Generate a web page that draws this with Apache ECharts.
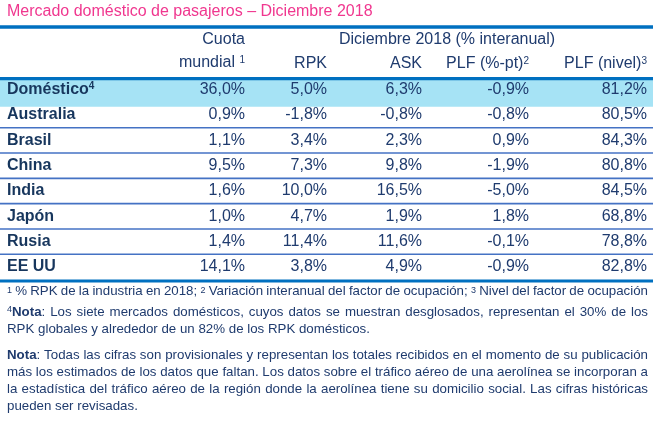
<!DOCTYPE html>
<html>
<head>
<meta charset="utf-8">
<script src="https://cdn.jsdelivr.net/npm/echarts@6/dist/echarts.min.js"></script>
<style>
  html, body { margin: 0; padding: 0; background: #fff; }
  #main { width: 664px; height: 425px; }
</style>
</head>
<body>
<div id="main"></div>
<script>
var rowNames = ['Doméstico', 'Australia', 'Brasil', 'China', 'India', 'Japón', 'Rusia', 'EE UU'];
var cuota    = [36.0, 0.9, 1.1, 9.5, 1.6, 1.0, 1.4, 14.1];
var rpk      = [5.0, -1.8, 3.4, 7.3, 10.0, 4.7, 11.4, 3.8];
var ask      = [6.3, -0.8, 2.3, 9.8, 16.5, 1.9, 11.6, 4.9];
var plfPt    = [-0.9, -0.8, 0.9, -1.9, -5.0, 1.8, -0.1, -0.9];
var plfNivel = [81.2, 80.5, 84.3, 80.8, 84.5, 68.8, 78.8, 82.8];

var titleText = 'Mercado doméstico de pasajeros – Diciembre 2018';
var notes = [
    { text: '{s|1} % RPK de la industria en 2018; {s|2} Variación interanual del factor de ocupación; {s|3} Nivel del factor de ocupación', justify: true },
    { text: '{s|4}{b|Nota}: Los siete mercados domésticos, cuyos datos se muestran desglosados, representan el 30% de los', justify: true },
    { text: 'RPK globales y alrededor de un 82% de los RPK domésticos.', justify: false },
    { text: '{b|Nota}: Todas las cifras son provisionales y representan los totales recibidos en el momento de su publicación', justify: true },
    { text: 'más los estimados de los datos que faltan. Los datos sobre el tráfico aéreo de una aerolínea se incorporan a', justify: true },
    { text: 'la estadística del tráfico aéreo de la región donde la aerolínea tiene su domicilio social. Las cifras históricas', justify: true },
    { text: 'pueden ser revisadas.', justify: false }
];
var noteY = [291, 312, 329, 355, 372, 389, 406];

window.onload = function () {
    var FONT = '"Liberation Sans", Arial, sans-serif';
    var BLUE = '#0070c0';
    var TXT = '#1f3b6e';
    var colX = [7, 245, 327, 422, 529, 647];
    var XMAX = 653;

    function pct(v) {
        return v.toFixed(1).replace('.', ',') + '%';
    }
    var cols = [cuota, rpk, ask, plfPt, plfNivel];

    // medir palabras para justificar las notas
    var ctx = document.createElement('canvas').getContext('2d');
    var noteSize = 13.3;
    var supSize = 9;
    var noteRich = {
        b: { fontWeight: 'bold', fontSize: noteSize, fontFamily: FONT, fill: TXT },
        s: { fontSize: supSize, fontFamily: FONT, fill: TXT, verticalAlign: 'top' }
    };
    function measure(tok) {
        var re = /\{(\w+)\|([^}]*)\}|([^{]+)/g, m, w = 0;
        while ((m = re.exec(tok))) {
            if (m[1] === 'b') ctx.font = 'bold ' + noteSize + 'px ' + FONT;
            else if (m[1] === 's') ctx.font = supSize + 'px ' + FONT;
            else ctx.font = noteSize + 'px ' + FONT;
            w += ctx.measureText(m[1] ? m[2] : m[3]).width;
        }
        return w;
    }

    var graphics = [
        { type: 'rect', shape: { x: 0, y: 25.2, width: XMAX, height: 3.5 }, style: { fill: BLUE } },
        { type: 'text', style: { text: 'Cuota', x: 245, y: 40, align: 'right', verticalAlign: 'middle', fontSize: 16, fontFamily: FONT, fill: TXT } },
        { type: 'text', style: { text: 'mundial {s|1}', x: 245, y: 63, align: 'right', verticalAlign: 'middle', fontSize: 16, fontFamily: FONT, fill: TXT,
            rich: { s: { fontSize: 10, fontFamily: FONT, fill: TXT, verticalAlign: 'top' } } } },
        { type: 'text', style: { text: 'Diciembre 2018 (% interanual)', x: 339, y: 40, align: 'left', verticalAlign: 'middle', fontSize: 16, fontFamily: FONT, fill: TXT } }
    ];
    var heads = ['RPK', 'ASK', 'PLF (%-pt){s|2}', 'PLF (nivel){s|3}'];
    heads.forEach(function (h, k) {
        graphics.push({ type: 'text', style: { text: h, x: colX[k + 2], y: 64, align: 'right', verticalAlign: 'middle', fontSize: 16, fontFamily: FONT, fill: TXT,
            rich: { s: { fontSize: 10, fontFamily: FONT, fill: TXT, verticalAlign: 'top' } } } });
    });

    notes.forEach(function (line, li) {
        var words = line.text.split(' ');
        var widths = words.map(measure);
        var total = widths.reduce(function (a, b) { return a + b; }, 0);
        ctx.font = noteSize + 'px ' + FONT;
        var gap = line.justify ? (641 - total) / (words.length - 1) : ctx.measureText(' ').width;
        gap = Math.max(gap, 1.5);
        var x = 7;
        words.forEach(function (w, wi) {
            graphics.push({ type: 'text', style: { text: w, x: x, y: noteY[li], align: 'left', verticalAlign: 'middle',
                fontSize: noteSize, fontFamily: FONT, fill: TXT, rich: noteRich } });
            x += widths[wi] + gap;
        });
    });

    var myChart = echarts.init(document.getElementById('main'));
    var option = {
        animation: false,
        title: {
            text: titleText,
            left: 7,
            top: 4,
            padding: 0,
            textStyle: { color: '#f0378f', fontSize: 16, fontWeight: 'normal', fontFamily: FONT }
        },
        grid: { left: 0, right: 664 - XMAX, top: 77, height: 202.5 },
        xAxis: { type: 'value', min: 0, max: XMAX, show: false },
        yAxis: { type: 'category', data: rowNames, inverse: true, show: false },
        graphic: graphics,
        series: [{
            type: 'custom',
            clip: false,
            encode: { x: 0, y: 1 },
            data: rowNames.map(function (n, i) { return [0, i]; }),
            renderItem: function (params, api) {
                var i = params.dataIndex;
                var p = api.coord([0, i]);
                var x0 = p[0], yc = p[1];
                var x1 = api.coord([XMAX, i])[0];
                var h = api.size([0, 1])[1];
                var children = [];
                if (i === 0) {
                    children.push({ type: 'rect', shape: { x: x0, y: yc - h / 2 + 3, width: x1 - x0, height: h + 1.5 }, style: { fill: '#a6e3f5' } });
                    children.push({ type: 'rect', shape: { x: x0, y: yc - h / 2, width: x1 - x0, height: 3.3 }, style: { fill: BLUE } });
                }
                children.push({ type: 'text', style: {
                    text: '{b|' + rowNames[i] + '}' + (i === 0 ? '{s|4}' : ''),
                    x: api.coord([colX[0], i])[0], y: yc, align: 'left', verticalAlign: 'middle',
                    rich: {
                        b: { fontSize: 16, fontWeight: 'bold', fontFamily: FONT, fill: '#17365d' },
                        s: { fontSize: 10, fontWeight: 'bold', fontFamily: FONT, fill: '#17365d', verticalAlign: 'top' }
                    }
                } });
                cols.forEach(function (arr, c) {
                    children.push({ type: 'text', style: {
                        text: pct(arr[i]), x: api.coord([colX[c + 1], i])[0], y: yc,
                        align: 'right', verticalAlign: 'middle', fontSize: 16, fontFamily: FONT, fill: TXT
                    } });
                });
                if (i > 0 && i < rowNames.length - 1) {
                    children.push({ type: 'rect', shape: { x: x0, y: yc + h / 2 - 0.7, width: x1 - x0, height: 1.6 }, style: { fill: '#4472c4' } });
                }
                if (i === rowNames.length - 1) {
                    children.push({ type: 'rect', shape: { x: x0, y: yc + h / 2, width: x1 - x0, height: 3 }, style: { fill: BLUE } });
                }
                return { type: 'group', children: children };
            }
        }]
    };
    myChart.setOption(option);
    window.addEventListener('resize', function () {
        myChart.resize();
    });
};
</script>
</body>
</html>
